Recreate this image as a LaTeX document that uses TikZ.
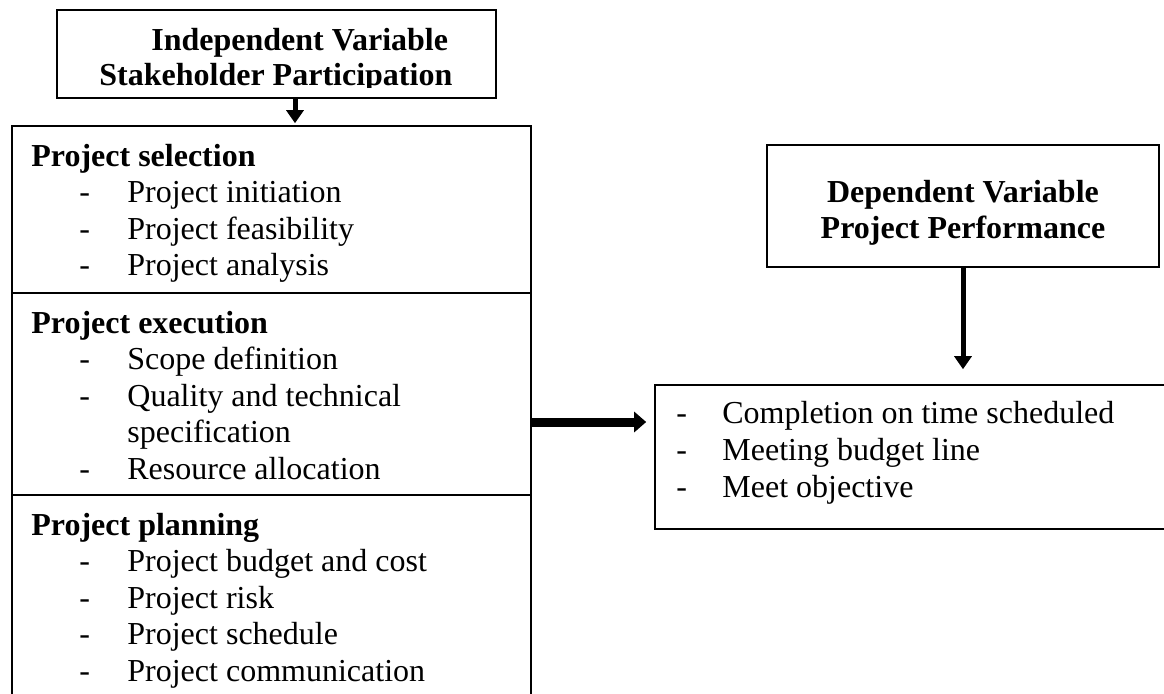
\documentclass[tikz,border=0pt]{standalone}
\usepackage{fontspec}
\setmainfont{Liberation Serif}
\usetikzlibrary{arrows.meta,fit}
\newcommand\boxfont{\fontsize{16}{18}\selectfont}

\begin{document}
\begin{tikzpicture}[x=.5pt,y=-.5pt,
  varbox/.style={draw,line width=1pt,inner sep=0pt},
  listbox/.style={draw,line width=.8pt,inner sep=0pt},
  head/.style={anchor=base west,inner sep=0pt,font=\boxfont\bfseries},
  entry/.style={anchor=base west,inner sep=0pt,font=\boxfont},
  title/.style={anchor=base,inner sep=0pt,font=\boxfont\bfseries},
  thinarrow/.style={line width=2.5pt,-{Triangle[width=8.5pt,length=6.5pt]}},
  bigarrow/.style={line width=4.5pt,-{Triangle[width=10pt,length=6pt]}}]
\path[use as bounding box] (0,0) rectangle (1164,693);

% independent variable
\node[varbox,fit={(57,10) (496,98)}] (indep) {};
\begin{scope}
\clip (57,10) rectangle (496,87);
\node[head] (indep-1) at (151,50) {Independent Variable};
\node[head] (indep-2) at (99,85) {Stakeholder Participation};
\end{scope}

% the three groups of indicators
\node[listbox,fit={(12,126) (531,293)}] (selbox) {};
\node[listbox,fit={(12,293) (531,495)}] (execbox) {};
\node[listbox,fit={(12,495) (531,720)}] (planbox) {};

\node[head] (sel) at (31,166) {Project selection};
\foreach \t [count=\i] in {Project initiation,Project feasibility,Project analysis}
  {\node[entry] (sel-d\i) at (79,{166+36.5*\i}) {-};
   \node[entry] (sel-\i) at (127,{166+36.5*\i}) {\t};}

\node[head] (exec) at (31,333) {Project execution};
\foreach \t [count=\i] in {Scope definition,Quality and technical,specification,Resource allocation}
  \node[entry] (exec-\i) at (127,{333+36.5*\i}) {\t};
\foreach \i in {1,2,4}
  \node[entry] (exec-d\i) at (79,{333+36.5*\i}) {-};

\node[head] (plan) at (31,535) {Project planning};
\foreach \t [count=\i] in {Project budget and cost,Project risk,Project schedule,Project communication}
  {\node[entry] (plan-d\i) at (79,{535+36.5*\i}) {-};
   \node[entry] (plan-\i) at (127,{535+36.5*\i}) {\t};}

% dependent variable
\node[varbox,fit={(767,145) (1159,267)}] (depvar) {};
\node[title] (depvar-1) at (963,202) {Dependent Variable};
\node[title] (depvar-2) at (963,238) {Project Performance};

\node[listbox,fit={(655,385) (1180,529)}] (deplist) {};
\foreach \t [count=\i] in {Completion on time scheduled,Meeting budget line,Meet objective}
  {\node[entry] (dep-d\i) at (676,{386+37*\i}) {-};
   \node[entry] (dep-\i) at (722,{386+37*\i}) {\t};}

% arrows
\coordinate (drop) at ([xshift=9.25pt]indep.south);
\draw[thinarrow,shorten >=1pt] (drop) -- (drop |- selbox.north);
\draw[thinarrow,shorten >=7.5pt] (depvar.south) -- (depvar.south |- deplist.north);
\coordinate (link) at ([yshift=-14pt]execbox.east);
\draw[bigarrow,shorten >=4pt] (link) -- (link -| deplist.west);
\end{tikzpicture}
\end{document}
